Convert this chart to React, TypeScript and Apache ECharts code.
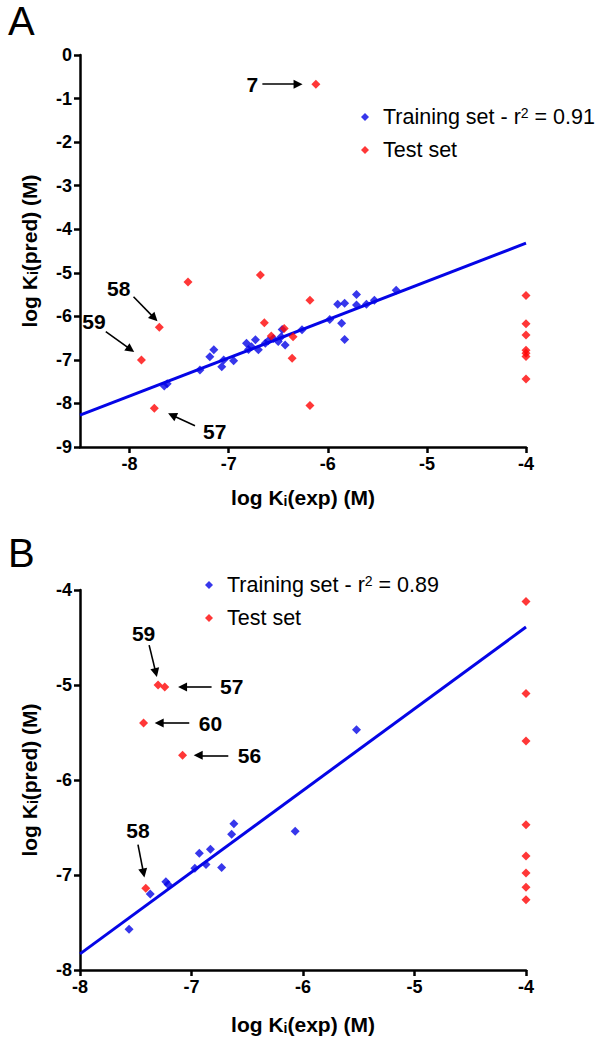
import React, { useEffect, useRef } from 'react';
import * as echarts from 'echarts';

const FONT = '"Liberation Sans", Arial, Helvetica, sans-serif';
const BLUE = '#0505e6';
const RED = '#ff0505';
const INK = '#000000';

// ---------- Panel A ----------
const trainA: number[][] = [
  [-7.65, -7.6], [-7.62, -7.55], [-7.29, -7.23], [-7.19, -6.93], [-7.15, -6.77],
  [-7.07, -7.16], [-7.05, -7.0], [-6.95, -7.02], [-6.82, -6.62], [-6.8, -6.76],
  [-6.77, -6.7], [-6.73, -6.54], [-6.7, -6.77], [-6.63, -6.62], [-6.6, -6.56],
  [-6.55, -6.51], [-6.5, -6.58], [-6.47, -6.47], [-6.46, -6.3], [-6.43, -6.66],
  [-6.26, -6.31], [-5.98, -6.07], [-5.9, -5.72], [-5.83, -5.7], [-5.86, -6.16],
  [-5.83, -6.53], [-5.71, -5.5], [-5.71, -5.74], [-5.61, -5.72], [-5.53, -5.63],
  [-5.31, -5.4],
];
const testA: number[][] = [
  [-6.12, -0.67], [-7.41, -5.21], [-6.68, -5.05], [-6.18, -5.63], [-7.7, -6.25],
  [-7.88, -7.0], [-6.64, -6.15], [-6.44, -6.28], [-6.57, -6.45], [-6.35, -6.47],
  [-6.36, -6.96], [-7.75, -8.11], [-6.18, -8.05],
  [-4, -5.52], [-4, -6.17], [-4, -6.43], [-4, -6.78], [-4, -6.85], [-4, -6.92], [-4, -7.44],
];
const fitA: number[][] = [[-8.5, -8.27], [-4, -4.32]];
const xTicksA = [-8, -7, -6, -5, -4];
const labelsA: (number | string)[][] = [
  [-6.76, -0.67, '7'], [-8.11, -5.36, '58'], [-8.36, -6.12, '59'], [-7.14, -8.65, '57'],
];
const arrowsA: number[][] = [
  [-6.66, -0.67, -6.3, -0.67], [-7.96, -5.55, -7.75, -6.04],
  [-8.24, -6.35, -7.99, -6.76], [-7.34, -8.51, -7.57, -8.27],
];

// ---------- Panel B ----------
const trainB: number[][] = [
  [-5.52, -5.47], [-6.07, -6.54], [-6.62, -6.46], [-6.64, -6.57], [-6.83, -6.73],
  [-6.93, -6.77], [-6.87, -6.89], [-6.97, -6.93], [-6.73, -6.92], [-7.23, -7.07],
  [-7.21, -7.1], [-7.37, -7.2], [-7.56, -7.57],
];
const testB: number[][] = [
  [-7.3, -5.0], [-7.24, -5.02], [-7.43, -5.4], [-7.08, -5.74], [-7.41, -7.14],
  [-4, -4.12], [-4, -5.09], [-4, -5.59], [-4, -6.47], [-4, -6.8], [-4, -6.98],
  [-4, -7.13], [-4, -7.26],
];
const fitB: number[][] = [[-8, -7.83], [-4, -4.39]];
const labelsB: (number | string)[][] = [
  [-7.43, -4.46, '59'], [-6.64, -5.02, '57'], [-6.83, -5.4, '60'],
  [-6.48, -5.74, '56'], [-7.48, -6.53, '58'],
];
const arrowsB: number[][] = [
  [-7.38, -4.58, -7.32, -4.87], [-6.82, -5.02, -7.08, -5.02],
  [-7.02, -5.4, -7.29, -5.4], [-6.67, -5.74, -6.94, -5.74],
  [-7.48, -6.68, -7.43, -6.98],
];

const legendText: Record<string, string> = {
  trainA: '{p|Training set - r}{s|2}{t| = 0.91}',
  testA: '{p|Test set}',
  trainB: '{p|Training set - r}{s|2}{t| = 0.89}',
  testB: '{p|Test set}',
};

function axisCommon() {
  return {
    axisLine: { show: true, onZero: false, lineStyle: { color: INK, width: 2.5 } },
    axisTick: { show: true, inside: false, length: 6, lineStyle: { color: INK, width: 2.5 } },
    splitLine: { show: false },
    axisLabel: {
      color: INK, fontSize: 18, fontWeight: 'bold', fontFamily: FONT, margin: 8,
    },
    nameLocation: 'middle',
    nameTextStyle: {
      color: INK, fontSize: 21, fontWeight: 'bold', fontFamily: FONT,
      rich: {
        s: { color: INK, fontSize: 14, fontWeight: 'bold', fontFamily: FONT, verticalAlign: 'bottom' },
      },
    },
  };
}

function scatter(name: string, data: number[][], color: string, idx: number) {
  return {
    type: 'scatter', name, data, xAxisIndex: idx, yAxisIndex: idx,
    symbol: 'diamond', symbolSize: 9, itemStyle: { color },
    emphasis: { disabled: true }, z: 3,
  };
}

function annotations(labels: (number | string)[][], arrows: number[][], idx: number) {
  return {
    type: 'scatter', name: 'ann' + idx, xAxisIndex: idx, yAxisIndex: idx,
    symbolSize: 0, itemStyle: { color: INK, opacity: 1 }, silent: true, z: 4,
    data: labels.map((l) => ({ value: [l[0], l[1]], name: String(l[2]) })),
    label: {
      show: true, position: 'inside', formatter: '{b}', color: INK, opacity: 1,
      textBorderWidth: 0, fontSize: 21, fontWeight: 'bold', fontFamily: FONT,
    },
    markLine: {
      silent: true, symbol: ['none', 'triangle'], symbolSize: 9,
      label: { show: false }, emphasis: { disabled: true },
      lineStyle: { color: INK, width: 1.6, type: 'solid', opacity: 1 },
      data: arrows.map((a) => [{ coord: [a[0], a[1]] }, { coord: [a[2], a[3]] }]),
    },
  };
}

function fit(data: number[][], idx: number) {
  return {
    type: 'line', name: 'fit' + idx, data, xAxisIndex: idx, yAxisIndex: idx,
    symbol: 'none', lineStyle: { color: BLUE, width: 3 }, silent: true, z: 2,
  };
}

function legend(names: string[], left: number, top: number) {
  return {
    data: names, orient: 'vertical', left, top, icon: 'diamond',
    itemWidth: 8, itemHeight: 8, itemGap: 11, selectedMode: false,
    formatter: (n: string) => legendText[n],
    textStyle: {
      color: INK, fontSize: 21.5, fontFamily: FONT, lineHeight: 22,
      rich: {
        p: { color: INK, fontSize: 21.5, fontFamily: FONT, padding: [0, 0, 0, 9] },
        t: { color: INK, fontSize: 21.5, fontFamily: FONT },
        s: { color: INK, fontSize: 14, fontFamily: FONT, verticalAlign: 'top' },
      },
    },
  };
}

export default function App() {
  const ref = useRef<HTMLDivElement>(null);
  useEffect(() => {
    document.body.style.margin = '0';
    if (!ref.current) return;
    const chart = echarts.init(ref.current, undefined, { renderer: 'svg' });
    const c = axisCommon();
    chart.setOption({
      animation: false,
      backgroundColor: '#ffffff',
      textStyle: { fontFamily: FONT },
      grid: [
        { left: 80, top: 55, width: 446, height: 392 },
        { left: 80, top: 590, width: 446, height: 380 },
      ],
      xAxis: [
        {
          ...c, gridIndex: 0, type: 'value', min: -8.5, max: -4,
          axisTick: { ...c.axisTick, customValues: xTicksA },
          axisLabel: { ...c.axisLabel, customValues: xTicksA },
          name: 'log K{s|i}(exp) (M)', nameGap: 40,
        },
        {
          ...c, gridIndex: 1, type: 'value', min: -8, max: -4, interval: 1,
          name: 'log K{s|i}(exp) (M)', nameGap: 44,
        },
      ],
      yAxis: [
        {
          ...c, gridIndex: 0, type: 'value', min: -9, max: 0, interval: 1,
          name: 'log K{s|i}(pred) (M)', nameGap: 40, nameRotate: 90,
        },
        {
          ...c, gridIndex: 1, type: 'value', min: -8, max: -4, interval: 1,
          name: 'log K{s|i}(pred) (M)', nameGap: 40, nameRotate: 90,
        },
      ],
      legend: [
        legend(['trainA', 'testA'], 356, 101),
        legend(['trainB', 'testB'], 200, 569),
      ],
      graphic: [
        { type: 'text', left: 8, top: 1, style: { text: 'A', fontSize: 40, fontFamily: FONT, fill: INK } },
        { type: 'text', left: 8, top: 533, style: { text: 'B', fontSize: 40, fontFamily: FONT, fill: INK } },
      ],
      series: [
        fit(fitA, 0),
        scatter('trainA', trainA, BLUE, 0),
        scatter('testA', testA, RED, 0),
        annotations(labelsA, arrowsA, 0),
        fit(fitB, 1),
        scatter('trainB', trainB, BLUE, 1),
        scatter('testB', testB, RED, 1),
        annotations(labelsB, arrowsB, 1),
      ],
    });
    return () => chart.dispose();
  }, []);
  return <div ref={ref} style={{ width: 603, height: 1050 }} />;
}
